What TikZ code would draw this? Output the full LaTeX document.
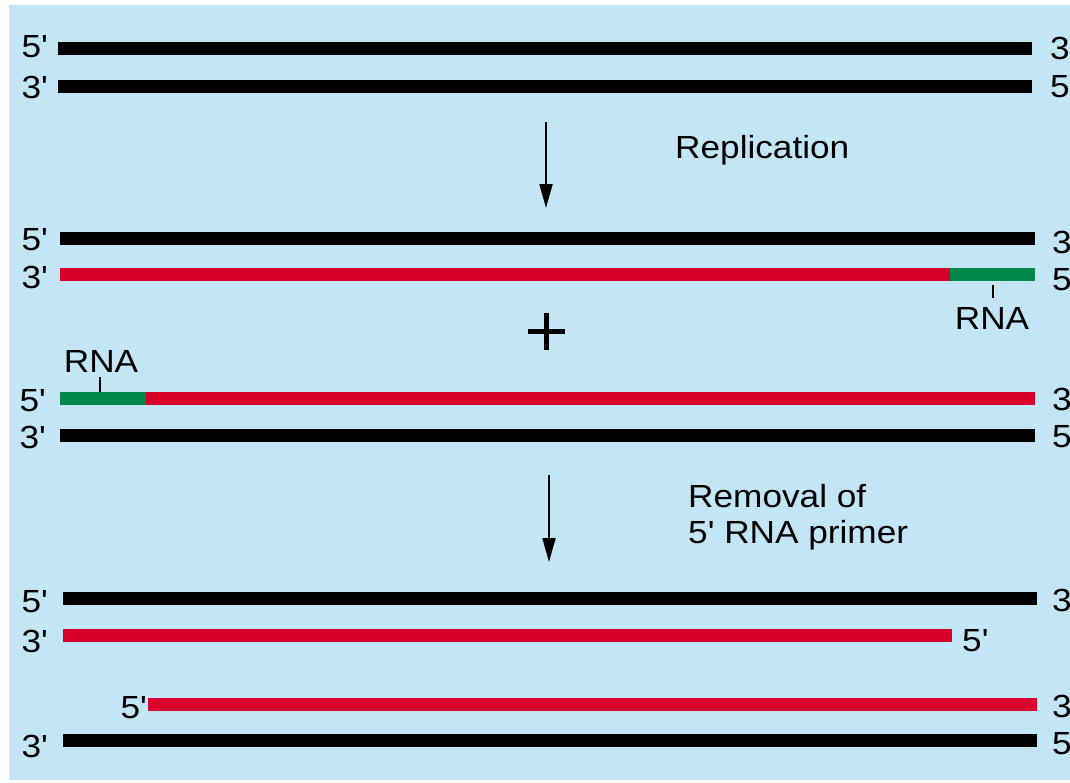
\documentclass[tikz,border=0pt]{standalone}
\usepackage{fontspec}
\setmainfont{Liberation Sans}
\usetikzlibrary{arrows.meta}
\definecolor{bgblue}{RGB}{194,230,246}
\definecolor{dnared}{RGB}{214,0,42}
\definecolor{rnagreen}{RGB}{0,135,74}
\newcommand{\wt}[1]{\scalebox{1.1}[1]{#1}}
\newcommand{\pr}{\textquotesingle}
\begin{document}
\begin{tikzpicture}[x=1pt,y=-1pt,
  strand/.style={line width=13pt},
  lbl/.style={inner sep=0pt, font=\fontsize{32}{38}\selectfont},
  tickmark/.style={line width=1.6pt},
  arr/.style={line width=2pt,-{Triangle[length=24pt,width=13pt]}},
  plusbar/.style={line width=4.5pt}]
\useasboundingbox (0,0) rectangle (1070,782);
\clip (0,0) rectangle (1070,782);
\fill[white] (0,0) rectangle (1070,782);
\fill[bgblue] (9,5) rectangle (1070,780);

% ---- block 1 : parental duplex
\draw[strand] (58,48) -- (1032,48);
\draw[strand] (58,86) -- (1032,86);
\node[lbl,anchor=east] (l1) at (48,46.5) {\wt{5\pr}};
\node[lbl,anchor=east] (l2) at (48,87.5) {\wt{3\pr}};
\node[lbl,anchor=west] (r1) at (1050,48) {\wt{3\pr}};
\node[lbl,anchor=west] (r2) at (1050,87) {\wt{5\pr}};

% ---- arrow 1
\coordinate (a1s) at (546,122);
\coordinate (a1e) at (546,208);
\draw[arr] (a1s) -- (a1e);
\node[lbl,anchor=base west] (rep) at (675,158) {\wt{Replication}};

% ---- block 2 : first daughter
\draw[strand] (60,238.5) -- (1035,238.5);
\draw[strand,dnared] (60,274.5) -- (950,274.5);
\draw[strand,rnagreen] (950,274.5) -- (1035,274.5);
\node[lbl,anchor=east] (l3) at (48,240) {\wt{5\pr}};
\node[lbl,anchor=east] (l4) at (48,277) {\wt{3\pr}};
\node[lbl,anchor=west] (r3) at (1052,242) {\wt{3\pr}};
\node[lbl,anchor=west] (r4) at (1052,280) {\wt{5\pr}};
\coordinate (t1a) at (993,285);
\coordinate (t1b) at (993,298);
\draw[tickmark] (t1a) -- (t1b);
\node[lbl] (rna1) at (992,318) {\wt{RNA}};

% ---- plus sign
\draw[plusbar] (528,331.5) -- (565,331.5);
\draw[plusbar] (546.5,313) -- (546.5,350);

% ---- block 3 : second daughter
\node[lbl] (rna2) at (101,361) {\wt{RNA}};
\coordinate (t2a) at (100,377);
\coordinate (t2b) at (100,392);
\draw[tickmark] (t2a) -- (t2b);
\draw[strand,rnagreen] (60,398) -- (146,398);
\draw[strand,dnared] (146,398) -- (1035,398);
\draw[strand] (60,435) -- (1035,435);
\node[lbl,anchor=east] (l5) at (46,401) {\wt{5\pr}};
\node[lbl,anchor=east] (l6) at (46,437.5) {\wt{3\pr}};
\node[lbl,anchor=west] (r5) at (1052,399) {\wt{3\pr}};
\node[lbl,anchor=west] (r6) at (1052,437) {\wt{5\pr}};

% ---- arrow 2
\coordinate (a2s) at (549,475);
\coordinate (a2e) at (549,562);
\draw[arr] (a2s) -- (a2e);
\node[lbl,anchor=base west] (rem1) at (688,507) {\wt{Removal of}};
\node[lbl,anchor=base west] (rem2) at (688,543) {\wt{5\pr{} RNA primer}};

% ---- block 4 : after primer removal
\draw[strand] (63,598.5) -- (1037,598.5);
\draw[strand,dnared] (63,635) -- (952,635);
\draw[strand,dnared] (148,704) -- (1037,704);
\draw[strand] (63,740) -- (1037,740);
\node[lbl,anchor=east] (l7) at (48,601.5) {\wt{5\pr}};
\node[lbl,anchor=east] (l8) at (48,641) {\wt{3\pr}};
\node[lbl,anchor=east] (l9) at (147,707.5) {\wt{5\pr}};
\node[lbl,anchor=east] (l10) at (48,746) {\wt{3\pr}};
\node[lbl,anchor=west] (r7) at (1052,600) {\wt{3\pr}};
\node[lbl,anchor=west] (r8) at (962,641) {\wt{5\pr}};
\node[lbl,anchor=west] (r9) at (1052,706) {\wt{3\pr}};
\node[lbl,anchor=west] (r10) at (1052,744) {\wt{5\pr}};
\end{tikzpicture}
\end{document}
